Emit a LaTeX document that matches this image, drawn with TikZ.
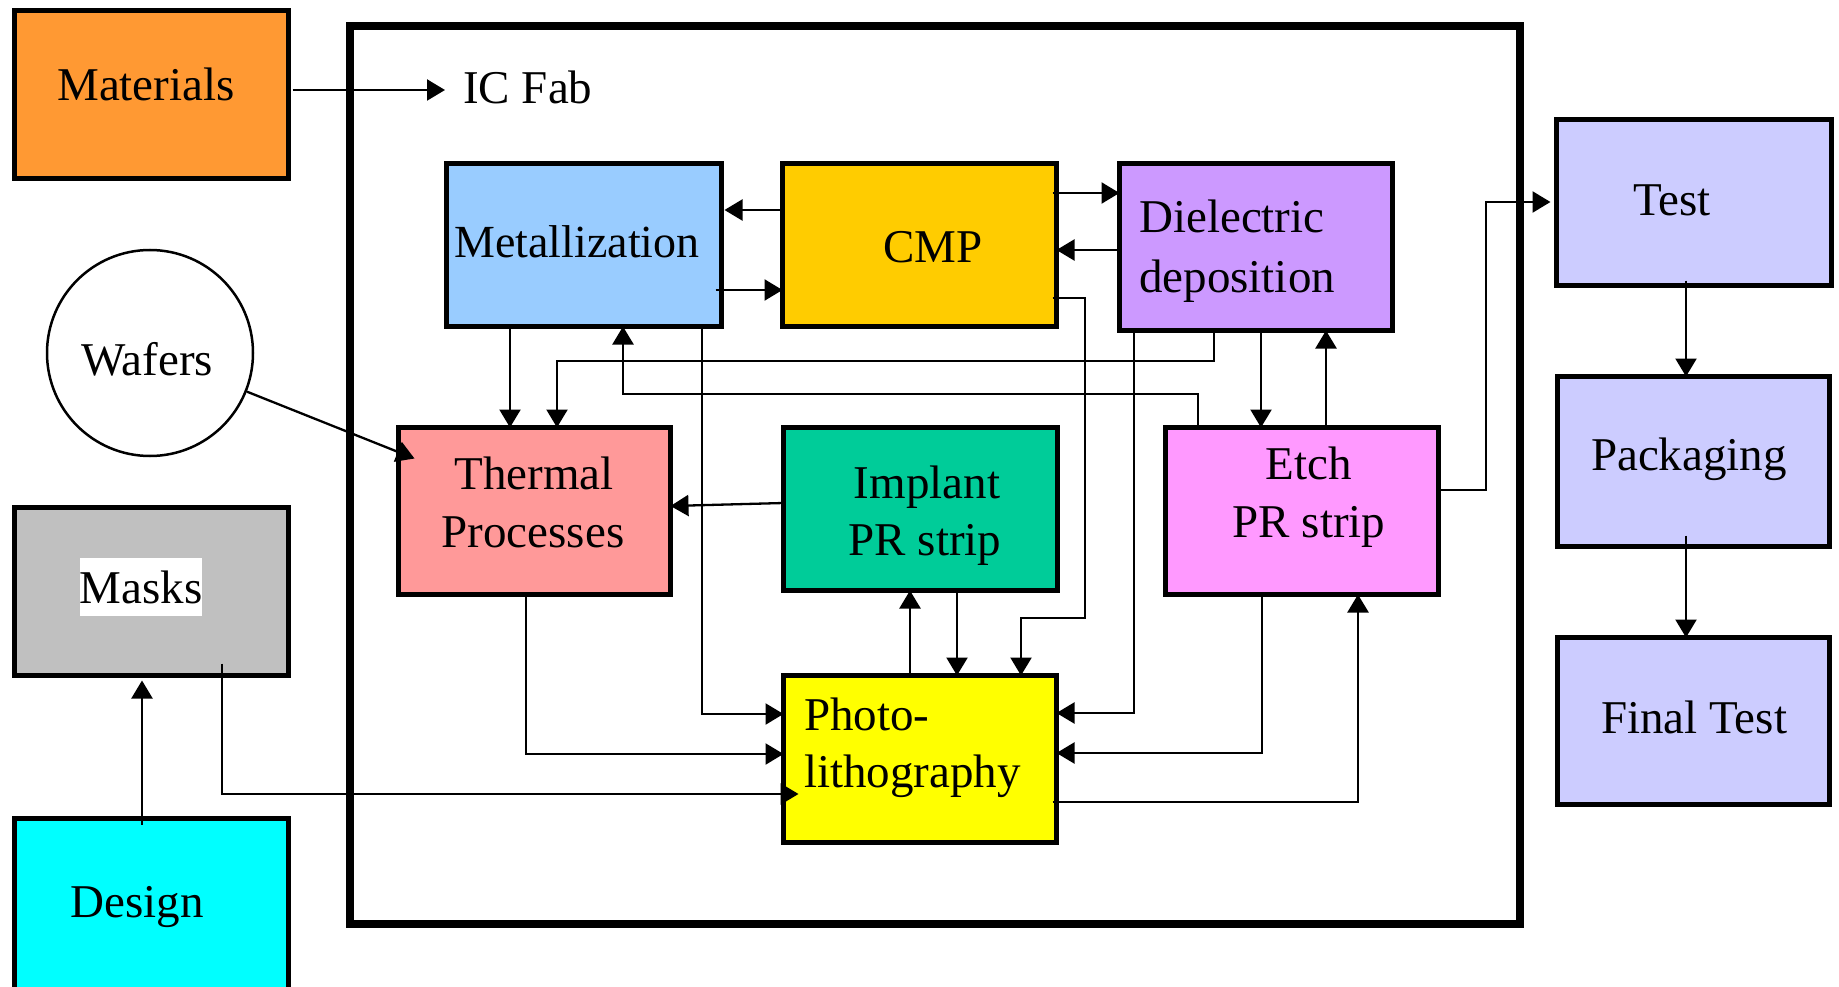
\documentclass[tikz,border=0pt]{standalone}
\usepackage{fontspec}
\setmainfont{Liberation Serif}
\usetikzlibrary{arrows.meta,calc}
\definecolor{cMat}{HTML}{FF9933}
\definecolor{cMet}{HTML}{99CCFF}
\definecolor{cCmp}{HTML}{FFCC00}
\definecolor{cDie}{HTML}{CC99FF}
\definecolor{cThe}{HTML}{FF9999}
\definecolor{cImp}{HTML}{00CC99}
\definecolor{cEtc}{HTML}{FF99FF}
\definecolor{cPho}{HTML}{FFFF00}
\definecolor{cMas}{HTML}{C0C0C0}
\definecolor{cDes}{HTML}{00FFFF}
\definecolor{cTst}{HTML}{CCCCFF}
\begin{document}
\begin{tikzpicture}[x=1pt,y=-1pt,
  box/.style={draw=black, line width=4.2pt, rectangle, inner sep=0pt, outer sep=0pt, line join=miter},
  lbl/.style={inner sep=0pt, font=\fontsize{47}{57}\selectfont, anchor=base},
  lblw/.style={lbl, anchor=base west},
  conn/.style={line width=2.3pt},
  arr/.style={conn, -{Triangle[length=18pt,width=21pt]}},
]
\useasboundingbox (0,0) rectangle (1839,987);
\fill[white] (0,0) rectangle (1839,987);

% IC Fab frame
\node[draw=black, line width=7.5pt, line join=miter, minimum width=1170pt, minimum height=898pt, inner sep=0pt] (fab) at (935,475) {};

% boxes
\node[box, fill=cMat, minimum width=274pt, minimum height=168pt] (materials) at (151.5,94.5) {};
\node[box, fill=cMet, minimum width=275pt, minimum height=163pt] (metal) at (584,245) {};
\node[box, fill=cCmp, minimum width=274pt, minimum height=163pt] (cmp) at (919.5,245) {};
\node[box, fill=cDie, minimum width=273pt, minimum height=167pt] (diel) at (1256,247) {};
\node[box, fill=cThe, minimum width=272pt, minimum height=167pt] (thermal) at (534.5,511) {};
\node[box, fill=cImp, minimum width=274pt, minimum height=163pt] (implant) at (920.5,509) {};
\node[box, fill=cEtc, minimum width=273pt, minimum height=167pt] (etch) at (1302,511) {};
\node[box, fill=cPho, minimum width=273pt, minimum height=167pt] (photo) at (920,759) {};
\node[box, fill=cMas, minimum width=274pt, minimum height=168pt] (masks) at (151.5,591.5) {};
\node[box, fill=cDes, minimum width=274pt, minimum height=180pt] (design) at (151.5,908.5) {};
\node[box, fill=cTst, minimum width=275pt, minimum height=166pt] (test) at (1694,202.5) {};
\node[box, fill=cTst, minimum width=272pt, minimum height=170pt] (packaging) at (1693.5,461.5) {};
\node[box, fill=cTst, minimum width=272pt, minimum height=167pt] (final) at (1693.5,721) {};
\node[draw=black, line width=2.5pt, circle, minimum size=206pt, inner sep=0pt] (wafers) at (150,353) {};

% labels
\node[lbl] (materials-t) at (146,101) {Materials};
\node[lblw] (icfab) at (463,104) {IC Fab};
\node[lbl, font=\fontsize{46}{57}\selectfont] (metal-t) at (577,257) {Metallization};
\node[lbl] (cmp-t) at (933,262) {CMP};
\node[lblw] (diel-t1) at (1139,233) {Dielectric};
\node[lblw] (diel-t2) at (1139,292) {deposition};
\node[lbl] (wafers-t) at (147,375) {Wafers};
\node[lbl] (thermal-t1) at (534,489) {Thermal};
\node[lbl] (thermal-t2) at (533,547) {Processes};
\node[lbl] (implant-t1) at (927,498) {Implant};
\node[lbl] (implant-t2) at (925,555) {PR strip};
\node[lbl] (etch-t1) at (1309,479) {Etch};
\node[lbl] (etch-t2) at (1309,537) {PR strip};
\node[lblw] (photo-t1) at (804,730) {Photo-};
\node[lblw] (photo-t2) at (804,787) {lithography};
\node[lbl, fill=white, text height=45pt, text depth=13pt] (masks-t) at (141,603) {Masks};
\node[lbl] (design-t) at (137,917) {Design};
\node[lbl] (test-t) at (1672,215) {Test};
\node[lbl] (packaging-t) at (1689,470) {Packaging};
\node[lbl] (final-t) at (1694,733) {Final Test};

% connectors
\draw[arr, shorten <=4pt, shorten >=18pt] (materials.east |- 0,90) -- (icfab.west |- 0,90);
\draw[arr] (wafers) -- ($(thermal.north west)+(16,31)$);
\draw[arr, shorten <=-6pt, shorten >=5pt] (design.north -| 142,0) -- (masks.south -| 142,0);
\draw[arr, shorten <=-12pt, shorten >=-15pt] (masks.south -| 222,0) |- (photo.west |- 0,794);

\draw[arr, shorten >=3pt] (cmp.west |- 0,210) -- (metal.east |- 0,210);
\draw[arr, shorten <=-6pt] (metal.east |- 0,290) -- (cmp.west |- 0,290);
\draw[arr, shorten <=-4pt] (cmp.east |- 0,193) -- (diel.west |- 0,193);
\draw[arr] (diel.west |- 0,250) -- (cmp.east |- 0,250);
\draw[arr, shorten <=-4pt] (cmp.east |- 0,298) -| (1085,618) -| (photo.north -| 1021,0);

\draw[arr] (metal.south -| 510,0) -- (thermal.north -| 510,0);
\draw[arr] (diel.south -| 1214,0) |- (557,361) -- (thermal.north -| 557,0);
\draw[arr] (etch.north -| 1198,0) |- (623,394) -- (metal.south -| 623,0);
\draw[arr] (metal.south -| 702,0) |- (photo.west |- 0,714);
\draw[arr] (diel.south -| 1261,0) -- (etch.north -| 1261,0);
\draw[arr] (etch.north -| 1326,0) -- (diel.south -| 1326,0);
\draw[arr] (diel.south -| 1134,0) |- (photo.east |- 0,713);

\draw[arr] (implant.west |- 0,503) -- (thermal.east |- 0,506);
\draw[arr] (photo.north -| 910,0) -- (implant.south -| 910,0);
\draw[arr] (implant.south -| 957,0) -- (photo.north -| 957,0);
\draw[arr] (thermal.south -| 526,0) |- (photo.west |- 0,754);

\draw[arr] (etch.south -| 1262,0) |- (photo.east |- 0,753);
\draw[arr, shorten <=-4pt] (photo.east |- 0,802) -| (etch.south -| 1358,0);
\draw[arr, shorten >=6pt] (etch.east |- 0,490) -- (1486,490) |- (test.west |- 0,202);

\draw[arr, shorten <=-5pt] (test.south -| 1686,0) -- (packaging.north -| 1686,0);
\draw[arr, shorten <=-11pt] (packaging.south -| 1686,0) -- (final.north -| 1686,0);
\end{tikzpicture}
\end{document}
